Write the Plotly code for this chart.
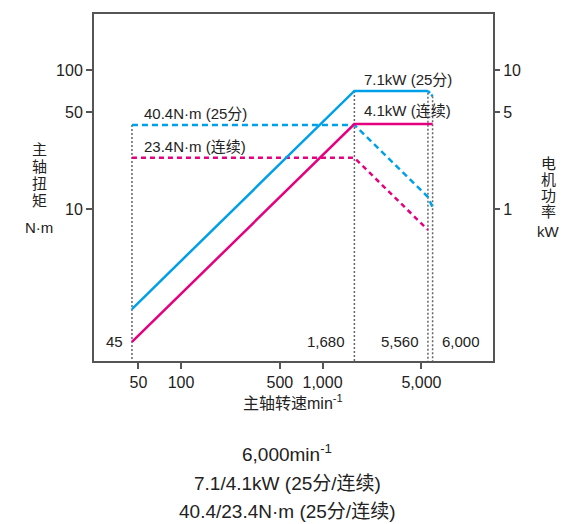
import plotly.graph_objects as go
import math

# ---- data ----
speed_25 = [45, 1680, 5560]          # rpm, 25-min power solid part
power_25 = [0.19, 7.1, 7.1]          # kW
speed_25_tail = [5560, 6000]
power_25_tail = [7.1, 6.5]
speed_cont = [45, 1680, 6000]
power_cont = [0.11, 4.1, 4.1]        # kW
speed_t25 = [45, 1680, 5560, 6000]
torque_25 = [40.4, 40.4, 12.2, 10.3]  # N·m
speed_tc = [45, 1680, 5560]
torque_cont = [23.4, 23.4, 7.07]     # N·m
marker_speeds = [45, 1680, 5560, 6000]
marker_tops = [40.4, 71.0, 69.0, 65.0]  # N·m-axis scale (kW*10)
marker_labels = ["45", "1,680", "5,560", "6,000"]
x_tickvals = [50, 100, 500, 1000, 5000]
x_ticktext = ["50", "100", "500", "1,000", "5,000"]
y_tickvals = [10, 50, 100]
y2_tickvals = [1, 5, 10]

BLUE = "#00A0E9"
MAG = "#E4007F"
GRAY = "#666666"
AX = "#555555"
TXT = "#222222"
FONT = "Liberation Sans, Arial, Noto Sans CJK SC, sans-serif"

fig = go.Figure()

# vertical dotted guides
for s, top in zip(marker_speeds, marker_tops):
    fig.add_trace(go.Scatter(x=[s, s], y=[top, 0.5], mode="lines",
                             line=dict(color=GRAY, width=1.5, dash="2px,2px"),
                             showlegend=False, hoverinfo="skip"))

# torque (dashed)
fig.add_trace(go.Scatter(x=speed_t25, y=torque_25, mode="lines",
                         line=dict(color=BLUE, width=2.5, dash="6px,4px"),
                         showlegend=False))
fig.add_trace(go.Scatter(x=speed_tc, y=torque_cont, mode="lines",
                         line=dict(color=MAG, width=2.5, dash="5px,4px"),
                         showlegend=False))
# power (solid) on y2
fig.add_trace(go.Scatter(x=speed_25, y=power_25, mode="lines", yaxis="y2",
                         line=dict(color=BLUE, width=2.5), showlegend=False))
fig.add_trace(go.Scatter(x=speed_25_tail, y=power_25_tail, mode="lines", yaxis="y2",
                         line=dict(color=BLUE, width=2.5, dash="3px,2px"), showlegend=False))
fig.add_trace(go.Scatter(x=speed_cont, y=power_cont, mode="lines", yaxis="y2",
                         line=dict(color=MAG, width=2.5), showlegend=False))

L, R, T, B = 94, 70, 14, 163
W, H = 563, 524
PW, PH = W - L - R, H - T - B

def px(x):
    return (x - L) / PW

def py(y):
    return (H - B - y) / PH

ann = []
tf = dict(family=FONT, size=15, color=TXT)
# curve labels
ann.append(dict(x=math.log10(speed_t25[0]), y=math.log10(torque_25[0]), xref="x", yref="y",
                text="40.4N·m (25分)", showarrow=False, xanchor="left", yanchor="bottom",
                xshift=10, yshift=1, font=tf))
ann.append(dict(x=math.log10(speed_tc[0]), y=math.log10(torque_cont[0]), xref="x", yref="y",
                text="23.4N·m (连续)", showarrow=False, xanchor="left", yanchor="bottom",
                xshift=10, yshift=1, font=tf))
ann.append(dict(x=math.log10(speed_25[1]), y=math.log10(power_25[1]), xref="x", yref="y2",
                text="7.1kW (25分)", showarrow=False, xanchor="left", yanchor="bottom",
                xshift=8, yshift=1, font=tf))
ann.append(dict(x=math.log10(speed_cont[1]), y=math.log10(power_cont[1]), xref="x", yref="y2",
                text="4.1kW (连续)", showarrow=False, xanchor="left", yanchor="bottom",
                xshift=8, yshift=3, font=tf))
# speed labels
for s, lab in zip(marker_speeds, marker_labels):
    right = lab != "6,000"
    ann.append(dict(x=math.log10(s), y=py(341), xref="x", yref="paper", text=lab,
                    showarrow=False, xanchor="right" if right else "left", yanchor="middle",
                    xshift=-7 if right else 7, font=tf))
# axis titles
af = dict(family=FONT, size=15, color=TXT)
for i, ch in enumerate("主轴扭矩"):
    ann.append(dict(x=px(39), y=py(149 + i * 17), xref="paper", yref="paper", text=ch,
                    showarrow=False, xanchor="center", yanchor="middle", font=af))
ann.append(dict(x=px(39), y=py(228), xref="paper", yref="paper", text="N·m",
                showarrow=False, xanchor="center", yanchor="middle", font=af))
for i, ch in enumerate("电机功率"):
    ann.append(dict(x=px(548), y=py(163 + i * 16), xref="paper", yref="paper", text=ch,
                    showarrow=False, xanchor="center", yanchor="middle", font=af))
ann.append(dict(x=px(548), y=py(231), xref="paper", yref="paper", text="kW",
                showarrow=False, xanchor="center", yanchor="middle", font=af))
ann.append(dict(x=px(293), y=py(402), xref="paper", yref="paper", text="主轴转速min<sup>-1</sup>",
                showarrow=False, xanchor="center", yanchor="middle",
                font=dict(family=FONT, size=16, color=TXT)))
# bottom spec text
bf = dict(family=FONT, size=19, color=TXT)
for yy, t in [(453, "6,000min<sup>-1</sup>"), (483, "7.1/4.1kW (25分/连续)"),
              (512, "40.4/23.4N·m (25分/连续)")]:
    ann.append(dict(x=px(287), y=py(yy), xref="paper", yref="paper", text=t,
                    showarrow=False, xanchor="center", yanchor="middle", font=bf))

tickfont = dict(family=FONT, size=16, color=TXT)
fig.update_layout(
    width=W, height=H, margin=dict(l=L, r=R, t=T, b=B),
    paper_bgcolor="white", plot_bgcolor="white",
    showlegend=False, annotations=ann,
    xaxis=dict(type="log", range=[1.385, 4.205], tickvals=x_tickvals, ticktext=x_ticktext,
               ticks="outside", ticklen=6, tickwidth=1.5, tickcolor=AX,
               showline=True, linecolor=AX, linewidth=2, mirror=True,
               showgrid=False, zeroline=False, tickfont=tickfont),
    yaxis=dict(type="log", range=[-0.096, 2.406], tickvals=y_tickvals,
               ticktext=[str(v) for v in y_tickvals],
               ticks="outside", ticklen=6, tickwidth=1.5, tickcolor=AX,
               showline=True, linecolor=AX, linewidth=2, mirror=True,
               showgrid=False, zeroline=False, tickfont=tickfont),
    yaxis2=dict(type="log", range=[-1.096, 1.406], tickvals=y2_tickvals,
                ticktext=[str(v) for v in y2_tickvals], overlaying="y", side="right",
                ticks="outside", ticklen=6, tickwidth=1.5, tickcolor=AX,
                showline=False, showgrid=False, zeroline=False, tickfont=tickfont),
)

fig.write_html("out.html", config={"displayModeBar": False},
               post_script="document.body.style.margin='0';document.body.style.overflow='hidden';")
